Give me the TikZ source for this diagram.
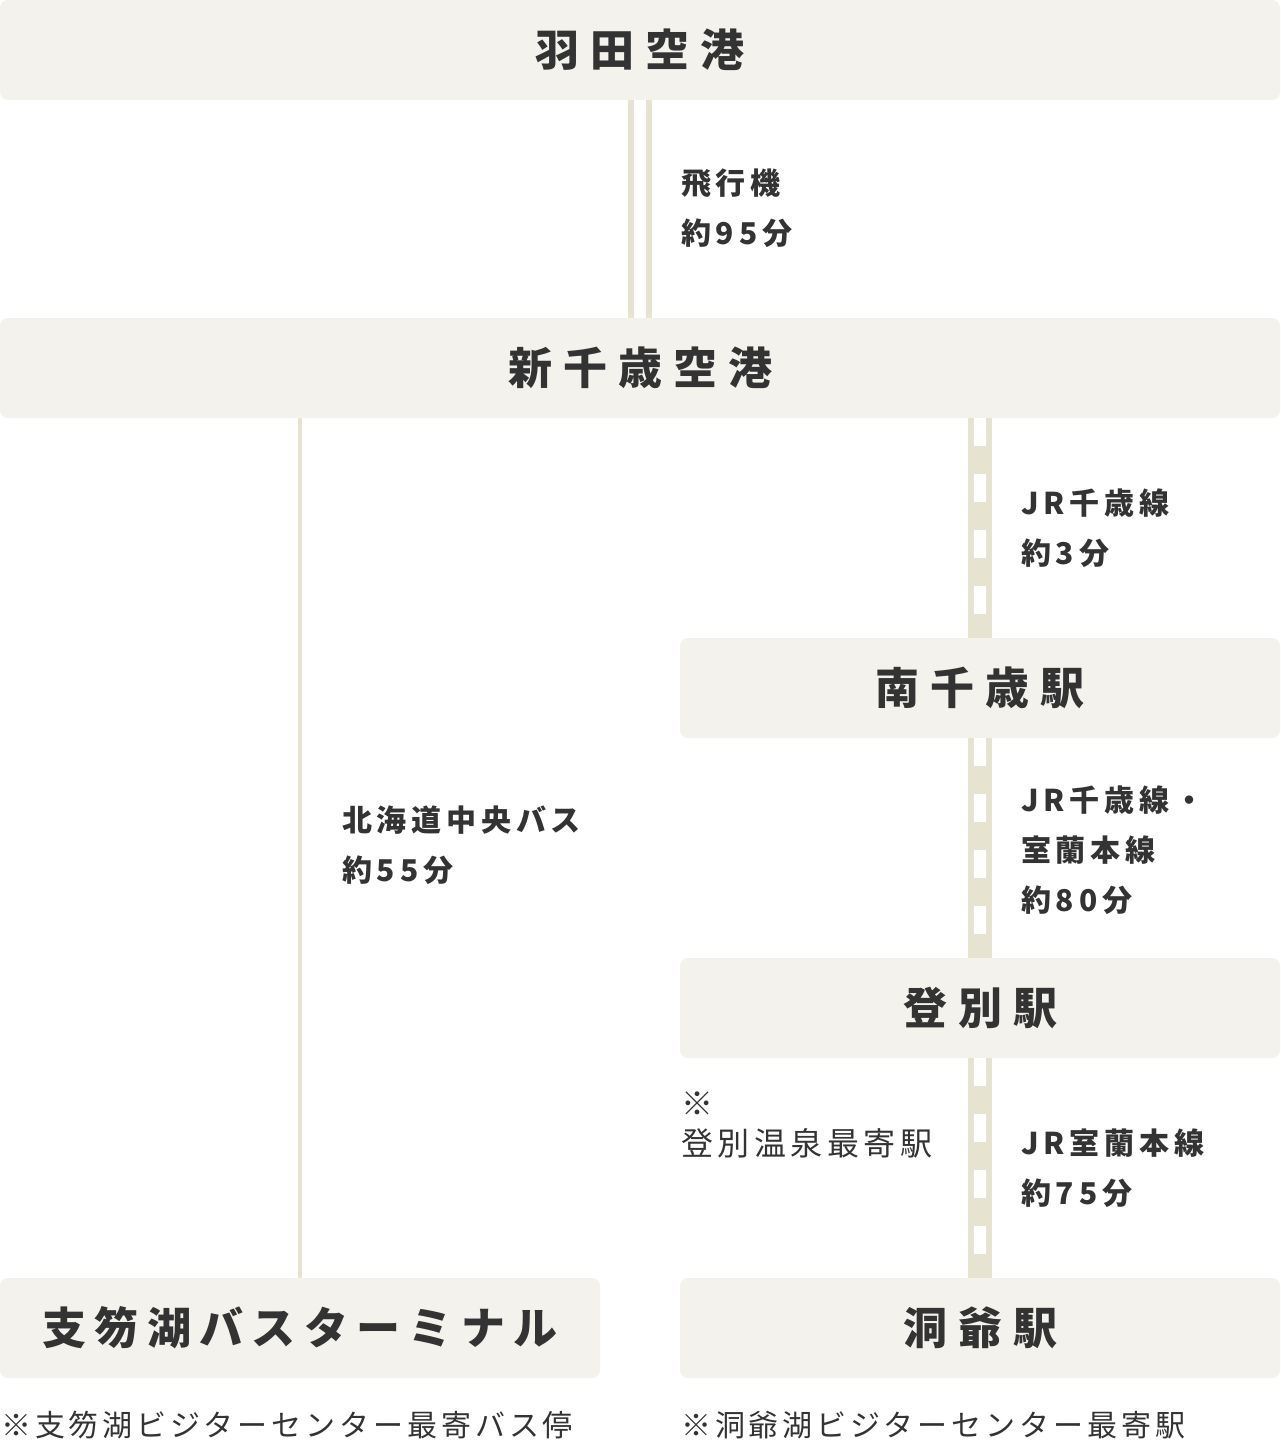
\documentclass[tikz,border=0pt]{standalone}
\usepackage{fontspec}
\setmainfont{Noto Sans CJK JP}
\usetikzlibrary{calc}
\definecolor{boxfill}{HTML}{F3F2ED}
\definecolor{linecol}{HTML}{E6E3D0}
\definecolor{inkcol}{HTML}{333333}
\newcommand\titlefnt{\fontsize{44}{52}\selectfont\bfseries\addfontfeature{LetterSpace=25}}
\newcommand\titlefntnarrow{\fontsize{44}{52}\selectfont\bfseries\addfontfeature{LetterSpace=19}}
\newcommand\labelfnt{\fontsize{30}{50}\selectfont\bfseries\addfontfeature{LetterSpace=16}}
\newcommand\notefnt{\fontsize{30}{40}\selectfont\addfontfeature{LetterSpace=13}}
\newcommand\notefntlarge{\fontsize{32}{40}\selectfont\addfontfeature{LetterSpace=14}}
\tikzset{
  stationbox/.style={fill=boxfill, rounded corners=8pt, inner sep=0pt,
    minimum height=100pt, text=inkcol, font=\titlefnt},
  routelabel/.style={anchor=west, inner sep=0pt, align=left, text=inkcol, font=\labelfnt},
  notelabel/.style={anchor=west, inner sep=0pt, align=left, text=inkcol, font=\notefnt},
  flightline/.style={draw=linecol, line width=6pt},
  busline/.style={draw=linecol, line width=4pt},
  railbase/.style={draw=linecol, line width=24pt},
  railgap/.style={draw=white, line width=12pt, dash pattern=on 28pt off 28pt},
}
\begin{document}
\begin{tikzpicture}[x=1pt,y=-1pt]
\useasboundingbox (0,0) rectangle (1280,1440);

% station boxes
\node[stationbox, minimum width=1280pt] (haneda) at (640,50) {羽田空港};
\node[stationbox, minimum width=1280pt] (chitose) at (640,368) {新千歳空港};
\node[stationbox, minimum width=600pt] (minami) at (980,688) {南千歳駅};
\node[stationbox, minimum width=600pt] (noboribetsu) at (980,1008) {登別駅};
\node[stationbox, minimum width=600pt, font=\titlefntnarrow] (shikotsu) at (300,1328) {支笏湖バスターミナル};
\node[stationbox, minimum width=600pt] (toya) at (980,1328) {洞爺駅};

% flight (double line)
\draw[flightline] ($(haneda.south)+(-9,0)$) -- ($(chitose.north)+(-9,0)$);
\draw[flightline] ($(haneda.south)+(9,0)$) -- ($(chitose.north)+(9,0)$);

% bus line
\draw[busline] (chitose.south -| shikotsu.north) -- (shikotsu.north);

% railway lines
\draw[railbase] (chitose.south -| minami.north) -- (minami.north);
\draw[railgap] (chitose.south -| minami.north) -- (minami.north);
\draw[railbase] (minami.south) -- (noboribetsu.north);
\draw[railgap] (minami.south) -- (noboribetsu.north);
\draw[railbase] (noboribetsu.south) -- (toya.north);
\draw[railgap] (noboribetsu.south) -- (toya.north);

% route labels
\node[routelabel] (lflight) at (681,208) {飛行機\\約95分};
\node[routelabel] (lrail1) at (1021,528) {JR千歳線\\約3分};
\node[routelabel] (lrail2) at (1021,850) {JR千歳線・\\室蘭本線\\約80分};
\node[routelabel] (lbus) at (342,845) {北海道中央バス\\約55分};
\node[routelabel] (lrail3) at (1021,1168) {JR室蘭本線\\約75分};

% notes
\node[notelabel, font=\notefntlarge] (nnobori) at (681,1125) {※\\登別温泉最寄駅};
\node[notelabel] (nshikotsu) at (1,1425) {※支笏湖ビジターセンター最寄バス停};
\node[notelabel] (ntoya) at (681,1425) {※洞爺湖ビジターセンター最寄駅};
\end{tikzpicture}
\end{document}
